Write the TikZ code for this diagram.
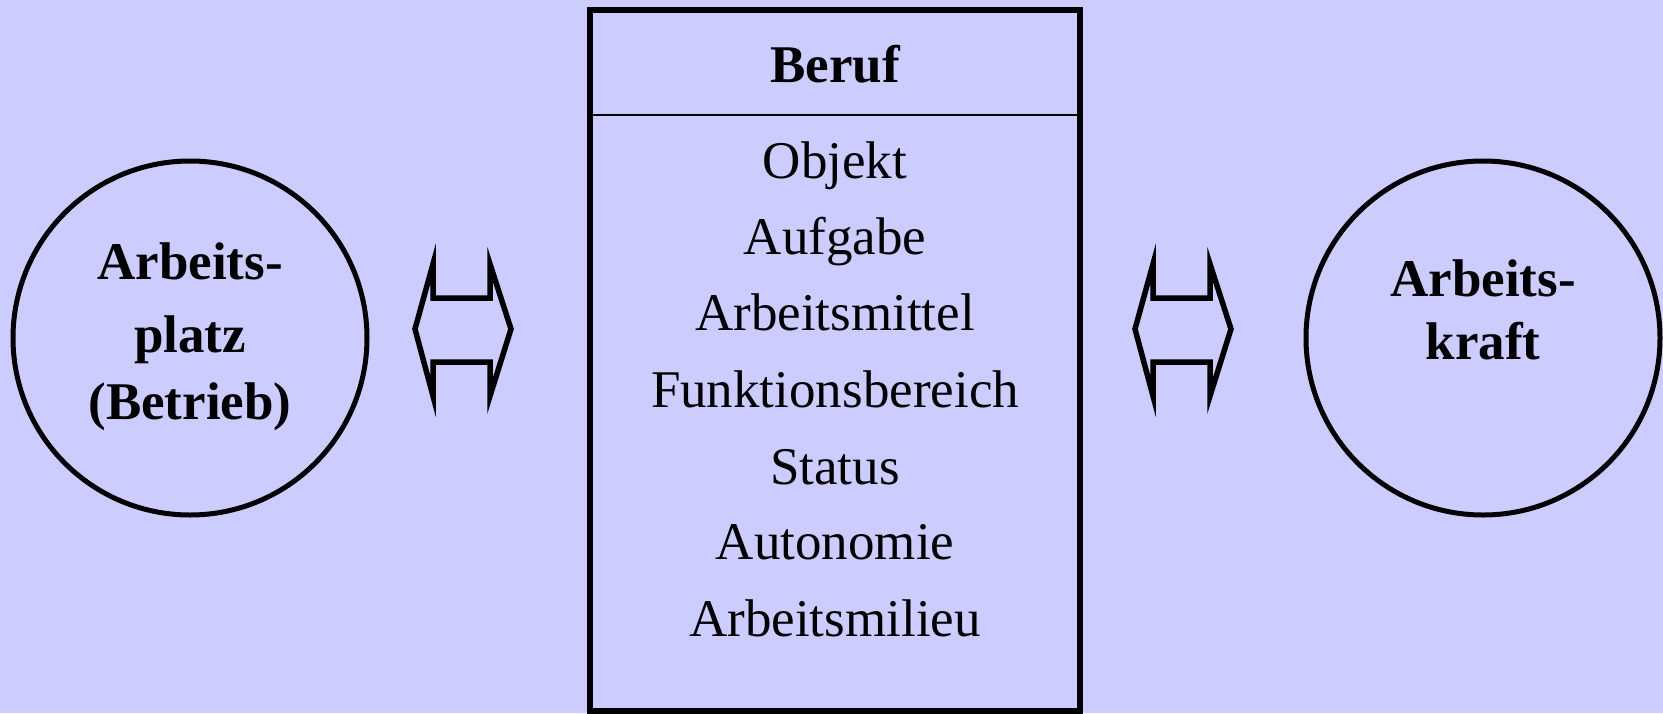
\documentclass[tikz,border=0pt]{standalone}
\usepackage{fontspec}
\setmainfont{Liberation Serif}
\definecolor{bgcol}{HTML}{CCCCFF}
\tikzset{
  txt/.style={inner sep=0pt, anchor=base, font=\fontsize{53}{64}\selectfont},
  btxt/.style={txt, font=\fontsize{53}{64}\selectfont\bfseries},
  ring/.style={draw=black, line width=5pt, circle, inner sep=0pt},
  dblarrow/.style={draw=black, line width=5.5pt, miter limit=10}
}
\begin{document}
\begin{tikzpicture}[x=1pt,y=-1pt]
\fill[bgcol] (0,0) rectangle (1663,713);
\useasboundingbox (0,0) rectangle (1663,713);
% circles
\node[ring, minimum size=354pt] (lc) at (190,338) {};
\node[ring, minimum size=354pt] (rc) at (1483,338) {};
% box
\draw[line width=5.5pt] (590,10) rectangle (1080,711);
\coordinate (hl) at (590,115);
\coordinate (hr) at (1080,115);
\draw[line width=2.2pt] (hl) -- (hr);
% header
\node[btxt] (beruf) at (835,82) {Beruf};
% items
\node[txt] (i1) at (835,178) {Objekt};
\node[txt] (i2) at (835,254) {Aufgabe};
\node[txt] (i3) at (835,330) {Arbeitsmittel};
\node[txt] (i4) at (835,407) {Funktionsbereich};
\node[txt] (i5) at (835,484) {Status};
\node[txt] (i6) at (835,559) {Autonomie};
\node[txt] (i7) at (835,636) {Arbeitsmilieu};
% left circle text
\node[btxt] (l1) at (190,279) {Arbeits-};
\node[btxt] (l2) at (190,352) {platz};
\node[btxt] (l3) at (190,419) {(Betrieb)};
% right circle text
\node[btxt] (r1) at (1483,296) {Arbeits-};
\node[btxt] (r2) at (1483,359) {kraft};
% double arrows
\foreach \dx/\nm in {0/la,720/ra}{
  \begin{scope}[xshift=\dx]
  \draw[dblarrow] (433,264) -- (433,298) -- (490,298) -- (490,264) -- (511,329)
    -- (490,396) -- (490,362) -- (433,362) -- (433,396) -- (415,329) -- cycle;
  \end{scope}
}
\end{tikzpicture}
\end{document}
